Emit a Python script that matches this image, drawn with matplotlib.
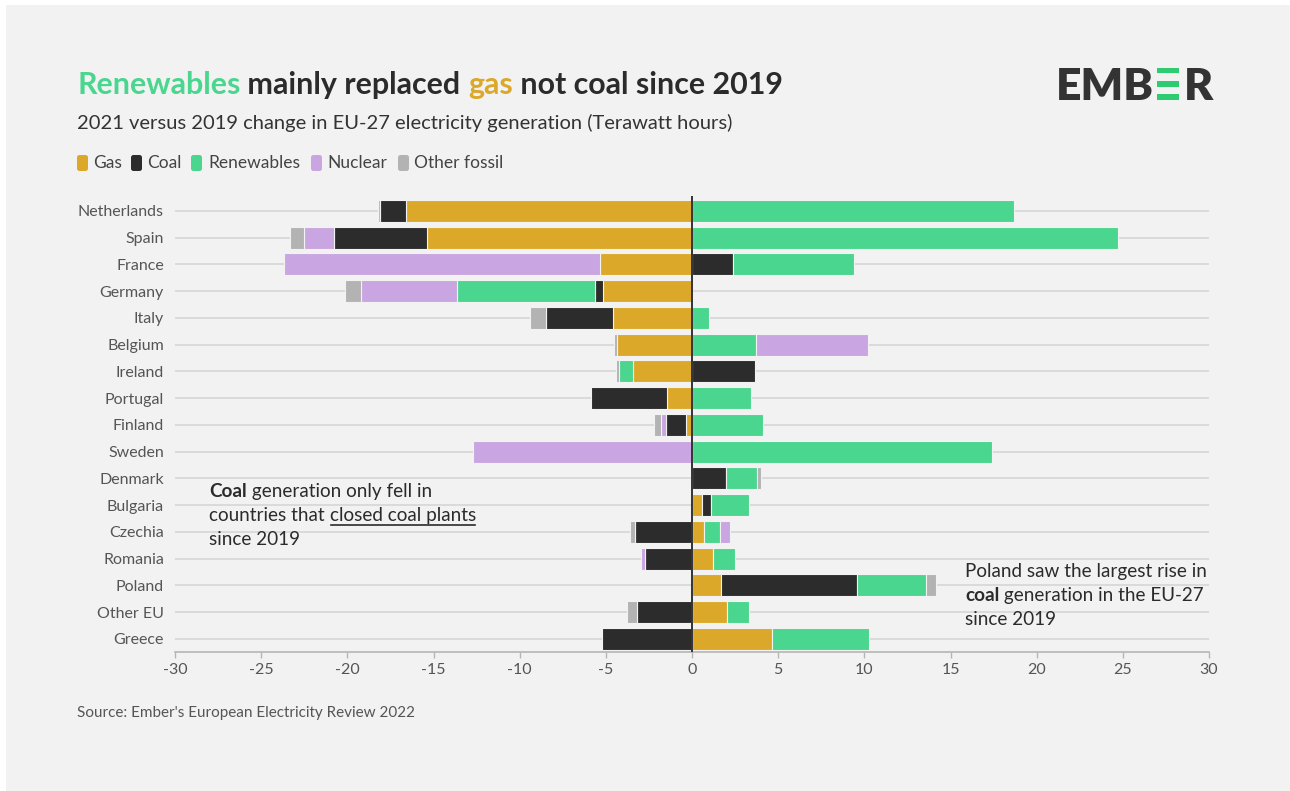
import matplotlib
matplotlib.use("Agg")
import matplotlib.pyplot as plt
import numpy as np
from matplotlib.patches import Rectangle, FancyBboxPatch
from matplotlib.transforms import IdentityTransform
from matplotlib.lines import Line2D

plt.rcParams["font.family"] = ["Lato", "DejaVu Sans"]
plt.rcParams["axes.unicode_minus"] = False

W, H = 1290, 791

# ── data (TWh change, 2021 vs 2019) ─────────────────────────────────────────
countries = ["Netherlands", "Spain", "France", "Germany", "Italy", "Belgium",
             "Ireland", "Portugal", "Finland", "Sweden", "Denmark", "Bulgaria",
             "Czechia", "Romania", "Poland", "Other EU", "Greece"]
gas = [-16.6, -15.4, -5.35, -5.15, -4.6, -4.35, -3.45, -1.45, -0.35, 0.0,
       0.0, 0.6, 0.7, 1.2, 1.7, 2.05, 4.65]
coal = [-1.5, -5.4, 2.4, -0.5, -3.9, 0.0, 3.65, -4.4, -1.15, 0.0,
        2.0, 0.5, -3.3, -2.75, 7.85, -3.2, -5.2]
renewables = [18.7, 24.7, 7.0, -8.0, 1.0, 3.7, -0.8, 3.4, 4.1, 17.4,
              1.8, 2.2, 0.95, 1.3, 4.05, 1.25, 5.6]
nuclear = [-0.1, -1.7, -18.35, -5.55, 0.0, 6.5, 0.0, 0.0, -0.3, -12.7,
           0.0, 0.0, 0.55, -0.22, 0.0, 0.0, 0.0]
other_fossil = [0.0, -0.8, 0.0, -0.95, -0.9, -0.15, -0.15, 0.0, -0.4, 0.0,
                0.2, 0.0, -0.27, 0.0, 0.55, -0.6, 0.0]

series_names = ["Gas", "Coal", "Renewables", "Nuclear", "Other fossil"]
series_vals = [gas, coal, renewables, nuclear, other_fossil]
xticks = [-30, -25, -20, -15, -10, -5, 0, 5, 10, 15, 20, 25, 30]

colors = {"Gas": "#dca82a", "Coal": "#2c2c2c", "Renewables": "#4ad68e",
          "Nuclear": "#c9a6e2", "Other fossil": "#b3b3b3"}
BG = "#f2f2f2"
DARK = "#2b2b2b"
GREY_TXT = "#555555"


def fx(px):
    return px / W


def fy(py):
    return 1 - py / H


fig = plt.figure(figsize=(W / 100, H / 100), dpi=100)
fig.patch.set_facecolor("white")
fig.add_artist(Rectangle((6, 0), W - 6, H - 5, transform=IdentityTransform(),
                         facecolor=BG, edgecolor="none", zorder=0))

ax = fig.add_axes([fx(175), fy(652.3), fx(1209) - fx(175), (652.3 - 196.2) / H])
ax.set_facecolor("none")

y = np.arange(len(countries))
ax.hlines(y, -30, 30, color="#d8d8d8", lw=1.3, zorder=1)

# stack each source outward from zero, separately for gains and losses
pos = np.zeros(len(countries))
neg = np.zeros(len(countries))
for name, vals in zip(series_names, series_vals):
    v = np.asarray(vals, dtype=float)
    left = np.where(v >= 0, pos, neg)
    m = v != 0
    ax.barh(y[m], v[m], left=left[m], height=0.82, color=colors[name],
            edgecolor=BG, linewidth=0.8, zorder=2)
    pos = pos + np.where(v > 0, v, 0)
    neg = neg + np.where(v < 0, v, 0)

ax.axvline(0, color="#333333", lw=1.4, zorder=3)

ax.set_xlim(-30, 30)
ax.set_ylim(16.5, -0.55)
ax.set_xticks(xticks)
ax.set_xticklabels([str(t) for t in xticks])
ax.set_yticks(y)
ax.set_yticklabels(countries)
ax.tick_params(axis="y", length=0, pad=8, labelsize=11.5, labelcolor=GREY_TXT)
ax.tick_params(axis="x", length=4.5, width=1, color="#b5b5b5", pad=3.5,
               labelsize=11.5, labelcolor=GREY_TXT)
for s in ["top", "right", "left"]:
    ax.spines[s].set_visible(False)
ax.spines["bottom"].set_color("#b5b5b5")
ax.spines["bottom"].set_linewidth(1.2)

# ── title (multi-colour) ─────────────────────────────────────────────────────
title_parts = [("Renewables", colors["Renewables"]), (" mainly replaced ", DARK),
               ("gas", colors["Gas"]), (" not coal since 2019", DARK)]
prev = fig.text(fx(77), fy(94), title_parts[0][0], color=title_parts[0][1],
                fontsize=21.9, fontweight="bold", va="baseline", ha="left")
for txt, c in title_parts[1:]:
    prev = ax.annotate(txt, xy=(1, 0), xycoords=prev, va="bottom", ha="left",
                       color=c, fontsize=21.9, fontweight="bold",
                       annotation_clip=False)

fig.text(fx(77), fy(123), "2021 versus 2019 change in EU-27 electricity generation (Terawatt hours)",
         color="#333333", fontsize=14.5, va="center", ha="left")

# ── legend ───────────────────────────────────────────────────────────────────
leg_sq_x = [77, 131, 191, 311, 398]
leg_tx_x = [93, 147, 208, 327, 414]
for name, sx, tx in zip(series_names, leg_sq_x, leg_tx_x):
    fig.add_artist(FancyBboxPatch((sx, H - 171), 11, 16,
                                  boxstyle="round,pad=0,rounding_size=2.5",
                                  transform=IdentityTransform(),
                                  facecolor=colors[name], edgecolor="none"))
    fig.text(fx(tx), fy(163), name, color="#444444", fontsize=12.5,
             va="center", ha="left")

# ── logo ─────────────────────────────────────────────────────────────────────
fig.text(fx(1056), fy(100), "EMB", color="#333333", fontsize=32,
         fontweight="heavy", va="baseline", ha="left")
for top in [67.7, 81.0, 94.3]:
    fig.add_artist(Rectangle((1157, H - top - 5.7), 22, 5.7,
                             transform=IdentityTransform(),
                             facecolor="#2ecc71", edgecolor="none"))
fig.text(fx(1184), fy(100), "R", color="#333333", fontsize=32,
         fontweight="heavy", va="baseline", ha="left")

# ── annotations ──────────────────────────────────────────────────────────────
ann_fs = 13.6
a1 = fig.text(fx(209), fy(497), "Coal", fontweight="bold", color=DARK,
              fontsize=ann_fs, va="baseline", ha="left")
ax.annotate(" generation only fell in", xy=(1, 0), xycoords=a1, va="bottom",
            ha="left", color=DARK, fontsize=ann_fs, annotation_clip=False)
a2 = fig.text(fx(209), fy(521), "countries that ", color=DARK, fontsize=ann_fs,
              va="baseline", ha="left")
a3 = ax.annotate("closed coal plants", xy=(1, 0), xycoords=a2, va="bottom",
                 ha="left", color=DARK, fontsize=ann_fs, annotation_clip=False)
fig.text(fx(209), fy(545), "since 2019", color=DARK, fontsize=ann_fs,
         va="baseline", ha="left")

b1 = fig.text(fx(965), fy(577), "Poland saw the largest rise in", color=DARK,
              fontsize=ann_fs, va="baseline", ha="left")
b2 = fig.text(fx(965), fy(601), "coal", fontweight="bold", color=DARK,
              fontsize=ann_fs, va="baseline", ha="left")
ax.annotate(" generation in the EU-27", xy=(1, 0), xycoords=b2, va="bottom",
            ha="left", color=DARK, fontsize=ann_fs, annotation_clip=False)
fig.text(fx(965), fy(625), "since 2019", color=DARK, fontsize=ann_fs,
         va="baseline", ha="left")

fig.text(fx(77), fy(713), "Source: Ember's European Electricity Review 2022",
         color=GREY_TXT, fontsize=11, va="center", ha="left")

# underline for "closed coal plants"
renderer = fig.canvas.get_renderer()
bb = a3.get_window_extent(renderer)
uy = H - 524.5
fig.add_artist(Line2D([bb.x0 + 1, bb.x1 - 1], [uy, uy], transform=IdentityTransform(),
                      color=DARK, lw=1.2))

fig.savefig("out.png", dpi=100, facecolor=fig.get_facecolor())
